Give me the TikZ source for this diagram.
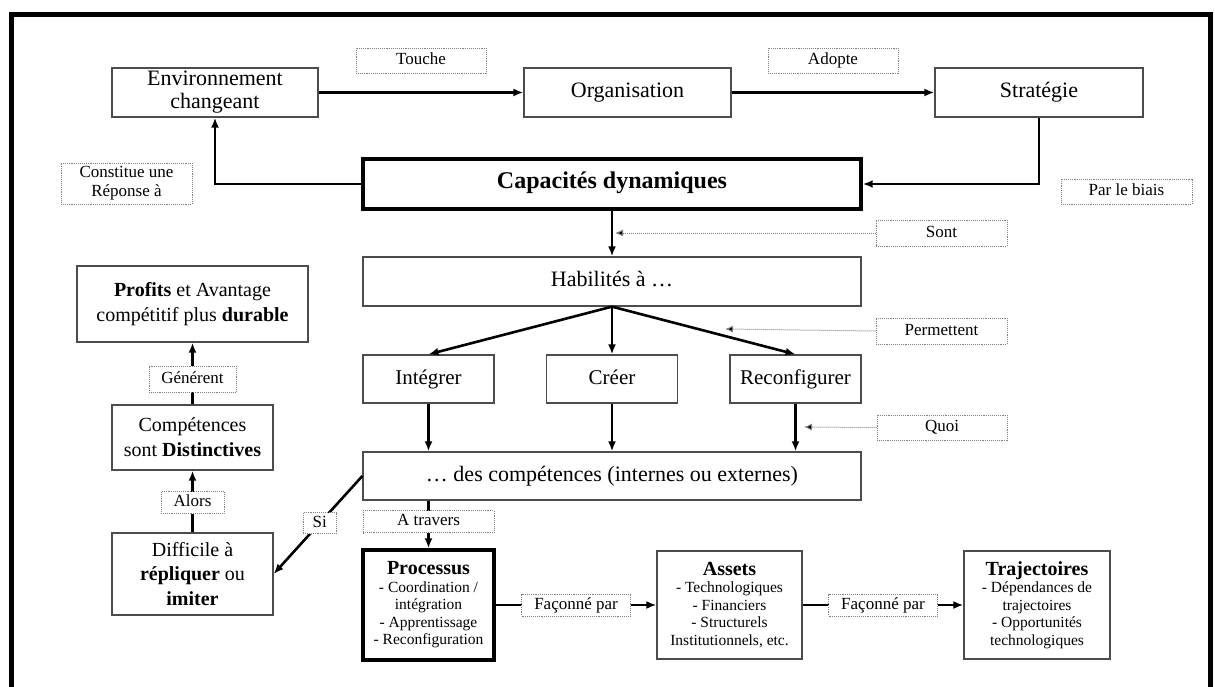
\documentclass[tikz,border=0pt]{standalone}
\usepackage{fontspec}
\setmainfont{Liberation Serif}
\usetikzlibrary{arrows.meta}

\tikzset{
  box/.style={draw=black!70, line width=1.3pt, fill=white, align=center, inner sep=1pt,
    font=\fontsize{22}{23}\selectfont},
  oneline/.style={text height=15pt, text depth=5pt},
  heavybox/.style={box, draw=black, line width=3.4pt},
  lblbase/.style={draw=black!50, densely dotted, line width=0.9pt, fill=white, align=center,
    inner sep=1pt, font=\fontsize{17}{19}\selectfont},
  lbl/.style={lblbase, text height=12pt, text depth=4pt},
  conn/.style={line width=2.6pt, ->},
  hint/.style={draw=black!50, densely dotted, line width=1pt, -{Latex[length=8pt,width=7pt,fill=black]}}
}

\begin{document}
\begin{tikzpicture}[x=1pt, y=-1pt, >={Latex[length=10pt,width=8pt]}]
\useasboundingbox (0,0) rectangle (1215,687);
\draw [line width=5pt] (11.5,687) -- (11.5,15) -- (1210,15) -- (1210,687);

% top row
\node[box, minimum width=206, minimum height=49] (env) at (215,92.5) {Environnement\\changeant};
\node[box, oneline, minimum width=207, minimum height=49] (org) at (627.5,92.5) {Organisation};
\node[box, oneline, minimum width=208, minimum height=49] (strat) at (1039,92.5) {Stratégie};
\node[lbl, minimum width=130, minimum height=25] (touche) at (421,60.5) {Touche};
\node[lbl, minimum width=130, minimum height=25] (adopte) at (833,60.5) {Adopte};

% centre column
\node[heavybox, oneline, minimum width=498, minimum height=50, font=\fontsize{24}{26}\selectfont\bfseries] (cap) at (612,184) {Capacités dynamiques};
\node[box, oneline, minimum width=498, minimum height=49] (hab) at (612,281.5) {Habilités à …};
\node[box, oneline, minimum width=131, minimum height=48, font=\fontsize{21}{23}\selectfont] (integ) at (428.5,379) {Intégrer};
\node[box, oneline, minimum width=131, minimum height=48, font=\fontsize{21}{23}\selectfont] (creer) at (612,379) {Créer};
\node[box, oneline, minimum width=131, minimum height=48, font=\fontsize{21}{23}\selectfont] (reconf) at (795.5,379) {Reconfigurer};
\node[box, oneline, minimum width=498, minimum height=48] (comp) at (612,476) {… des compétences (internes ou externes)};

% side labels
\node[lblbase, minimum width=131, minimum height=41] (reponse) at (126.5,183.5) {Constitue une\\Réponse à};
\node[lbl, minimum width=131, minimum height=25] (biais) at (1126.5,191.5) {Par le biais};
\node[lbl, minimum width=131, minimum height=26] (sont) at (941.5,233) {Sont};
\node[lbl, minimum width=131, minimum height=26] (permet) at (941.5,331) {Permettent};
\node[lbl, minimum width=130, minimum height=25] (quoi) at (942,427.5) {Quoi};
\coordinate (sonttip) at (615,233);
\coordinate (permettip) at (725,329);
\coordinate (quoitip) at (804,427);

% left column
\node[box, minimum width=231, minimum height=76, font=\fontsize{20}{25}\selectfont] (profits) at (192.5,304) {\textbf{Profits} et Avantage\\compétitif plus \textbf{durable}};
\node[box, minimum width=161, minimum height=65, font=\fontsize{20}{25}\selectfont] (distinct) at (192.5,437.5) {Compétences\\sont \textbf{Distinctives}};
\node[box, minimum width=161, minimum height=82, font=\fontsize{20}{24.5}\selectfont] (diff) at (192.5,574) {Difficile à\\\textbf{répliquer} ou\\\textbf{imiter}};

% bottom row
\node[heavybox, minimum width=131, minimum height=110, font=\fontsize{15.5}{17.5}\selectfont] (proc) at (428.5,605)
  {{\fontsize{20}{21}\selectfont\bfseries Processus}\\- Coordination /\\intégration\\- Apprentissage\\- Reconfiguration};
\node[box, minimum width=145, minimum height=108, font=\fontsize{15.5}{17.5}\selectfont] (assets) at (729.5,605)
  {{\fontsize{20}{21}\selectfont\bfseries Assets}\\- Technologiques\\- Financiers\\- Structurels\\Institutionnels, etc.};
\node[box, minimum width=146, minimum height=108, font=\fontsize{15.5}{17.5}\selectfont] (traj) at (1037,605)
  {{\fontsize{20}{21}\selectfont\bfseries Trajectoires}\\- Dépendances de\\trajectoires\\- Opportunités\\technologiques};

% connectors
\draw[conn] (env.east) -- (org.west);
\draw[conn] (org.east) -- (strat.west);
\draw[conn] (cap.west) -| (env.south);
\draw[conn] (strat.south) |- (cap.east);
\draw[conn] (cap.south) -- (hab.north);
\draw[conn] (hab.south) -- (integ.north);
\draw[conn] (hab.south) -- (creer.north);
\draw[conn] (hab.south) -- (reconf.north);
\draw[conn] (integ.south) -- (integ.south |- comp.north);
\draw[conn] (creer.south) -- (creer.south |- comp.north);
\draw[conn] (reconf.south) -- (reconf.south |- comp.north);
\draw[conn] (comp.west) -- node[lbl, pos=0.48, minimum width=33, minimum height=21] (si) {Si} (diff.east);
\draw[conn] (proc.north |- comp.south) -- node[lbl, pos=0.44, minimum width=131, minimum height=22] (travers) {A travers} (proc.north);
\draw[conn] (diff.north) -- node[lbl, pos=0.48, minimum width=63, minimum height=22] (alors) {Alors} (distinct.south);
\draw[conn] (distinct.north) -- node[lbl, pos=0.41, minimum width=87, minimum height=26] (generent) {Générent} (profits.south);
\draw[conn] (proc.east) -- node[lbl, minimum width=109, minimum height=22] (faconne1) {Façonné par} (assets.west);
\draw[conn] (assets.east) -- node[lbl, minimum width=109, minimum height=22] (faconne2) {Façonné par} (traj.west);

% dotted hints
\draw[hint] (sont.west) -- (sonttip);
\draw[hint] (permet.west) -- (permettip);
\draw[hint] (quoi.west) -- (quoitip);

\end{tikzpicture}
\end{document}
